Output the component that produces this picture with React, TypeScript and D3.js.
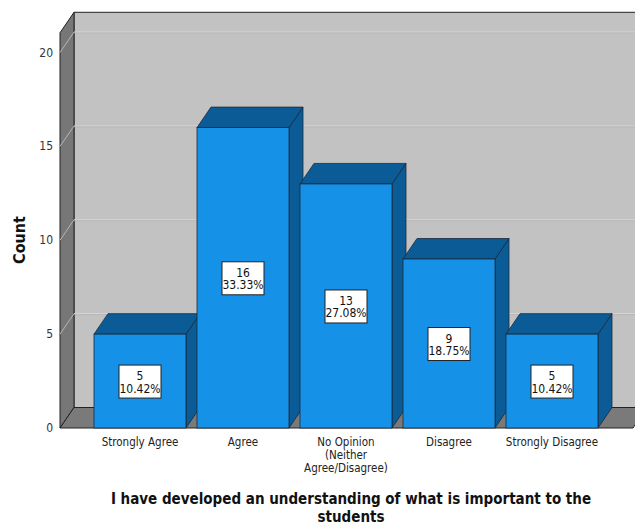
import React from "react";
import * as d3 from "d3";

const categories = ["Strongly Agree", "Agree", "No Opinion", "Disagree", "Strongly Disagree"];
const categoryLines = [
  ["Strongly Agree"],
  ["Agree"],
  ["No Opinion", "(Neither", "Agree/Disagree)"],
  ["Disagree"],
  ["Strongly Disagree"],
];
const counts = [5, 16, 13, 9, 5];
const percents = ["10.42%", "33.33%", "27.08%", "18.75%", "10.42%"];
const yTicks = [0, 5, 10, 15, 20];
const titleLines = ["I have developed an understanding of what is important to the", "students"];
const yTitle = "Count";

const W = 635;
const H = 527;
const DX = 14;
const DY = -20.5;
const FONT = "'DejaVu Sans Condensed', 'DejaVu Sans', sans-serif";

export default function App() {
  const x = d3.scaleBand<string>().domain(categories).range([83, 609]).paddingInner(0.1068).paddingOuter(0.1068);
  const y = d3.scaleLinear().domain([0, 20]).range([428, 52.5]);
  const wallTop = y(21.05);
  const x0 = 60;
  const xFrontRight = 633;
  const y0 = y(0);
  const bw = x.bandwidth();

  const pts = (a: number[][]) => a.map((p) => p.join(",")).join(" ");

  return (
    <svg width={W} height={H} style={{ position: "absolute", left: 0, top: 0, background: "#fff" }}>
      {/* back wall */}
      <polygon points={pts([[x0 + DX, wallTop + DY], [W + 20, wallTop + DY], [W + 20, y0 + DY], [x0 + DX, y0 + DY]])} fill="#c2c2c2" stroke="#222" strokeWidth={1} />
      {/* left wall */}
      <polygon points={pts([[x0, wallTop], [x0 + DX, wallTop + DY], [x0 + DX, y0 + DY], [x0, y0]])} fill="#777" stroke="#222" strokeWidth={1} />
      {/* floor */}
      <polygon points={pts([[x0, y0], [xFrontRight, y0], [xFrontRight + DX, y0 + DY], [x0 + DX, y0 + DY]])} fill="#7a7a7a" stroke="#222" strokeWidth={1} />
      {/* gridlines */}
      {yTicks.filter((t) => t > 0).map((t) => (
        <g key={t}>
          <line x1={x0} y1={y(t)} x2={x0 + DX} y2={y(t) + DY} stroke="#b5b5b5" strokeWidth={1} />
          <line x1={x0 + DX} y1={y(t) + DY} x2={W + 20} y2={y(t) + DY} stroke="#d6d6d6" strokeWidth={1} />
          <line x1={x0 + DX} y1={y(t) + DY + 1} x2={W + 20} y2={y(t) + DY + 1} stroke="#b0b0b0" strokeWidth={0.6} />
        </g>
      ))}
      {/* y tick labels */}
      {yTicks.map((t) => (
        <text key={t} x={53} y={y(t)} textAnchor="end" dominantBaseline="central" fontFamily={FONT} fontSize={12} fill="#333">
          {t}
        </text>
      ))}
      {/* bars */}
      {categories.map((c, i) => {
        const bx = x(c) as number;
        const by = y(counts[i]);
        return (
          <g key={c}>
            <polygon points={pts([[bx + bw, by], [bx + bw + DX, by + DY], [bx + bw + DX, y0 + DY], [bx + bw, y0]])} fill="#0b5b96" stroke="#1a2a3a" strokeWidth={0.8} />
            <polygon points={pts([[bx, by], [bx + DX, by + DY], [bx + bw + DX, by + DY], [bx + bw, by]])} fill="#0b5b96" stroke="#1a2a3a" strokeWidth={0.8} />
            <rect x={bx} y={by} width={bw} height={y0 - by} fill="#1591e8" stroke="#1a2a3a" strokeWidth={0.8} />
          </g>
        );
      })}
      {/* bar labels */}
      {categories.map((c, i) => {
        const cx = (x(c) as number) + bw / 2;
        const cy = (y(counts[i]) + y0) / 2 + 0.5;
        return (
          <g key={c + "l"}>
            <rect x={cx - 21} y={cy - 16.5} width={42} height={33} fill="#fff" stroke="#222" strokeWidth={1} />
            <text x={cx} y={cy - 5.5} textAnchor="middle" dominantBaseline="central" fontFamily={FONT} fontSize={12} fill="#111">
              {counts[i]}
            </text>
            <text x={cx} y={cy + 7} textAnchor="middle" dominantBaseline="central" fontFamily={FONT} fontSize={12} fill="#111">
              {percents[i]}
            </text>
          </g>
        );
      })}
      {/* x tick labels */}
      {categories.map((c, i) => (
        <text key={c + "x"} textAnchor="middle" fontFamily={FONT} fontSize={11.5} fill="#222">
          {categoryLines[i].map((ln, j) => (
            <tspan key={j} x={(x(c) as number) + bw / 2} y={442 + j * 12.8} dominantBaseline="central">
              {ln}
            </tspan>
          ))}
        </text>
      ))}
      {/* y title */}
      <text transform={`translate(19,240) rotate(-90)`} textAnchor="middle" dominantBaseline="central" fontFamily={FONT} fontSize={16} fontWeight="bold" fill="#111">
        {yTitle}
      </text>
      {/* title */}
      {titleLines.map((ln, j) => (
        <text key={j} x={351} y={499 + j * 18} textAnchor="middle" dominantBaseline="central" fontFamily={FONT} fontSize={15} fontWeight="bold" fill="#111">
          {ln}
        </text>
      ))}
    </svg>
  );
}
